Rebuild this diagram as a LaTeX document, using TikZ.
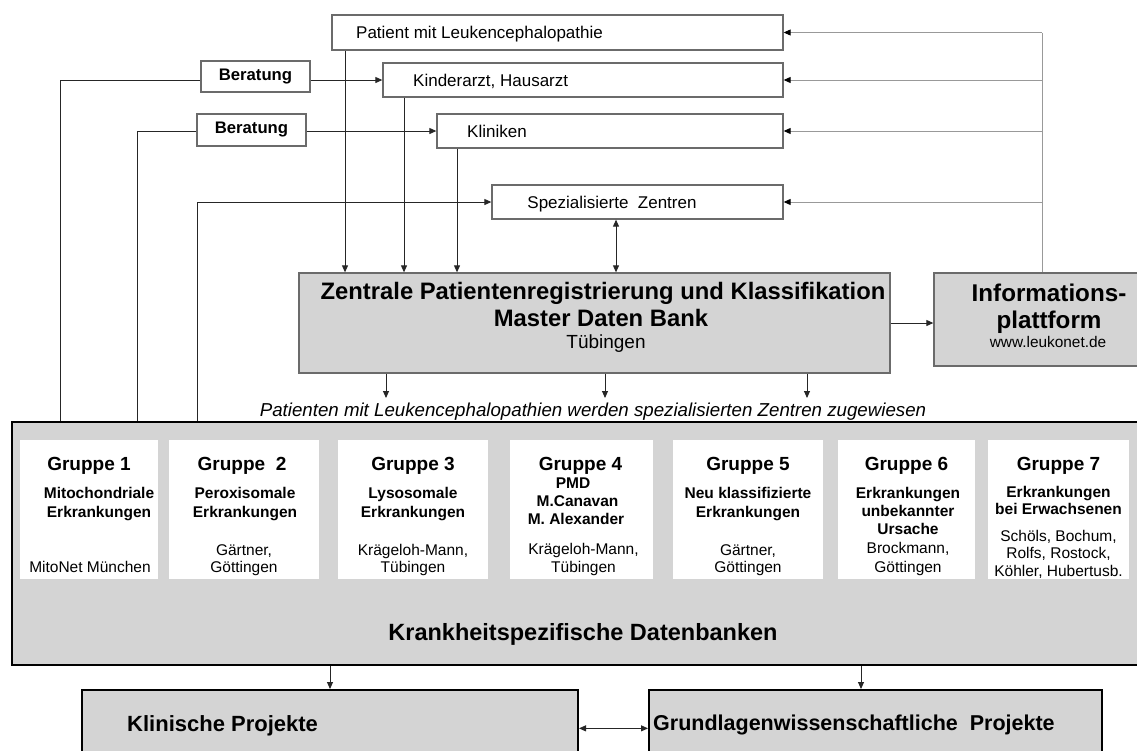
\documentclass[tikz,border=0pt]{standalone}
\usepackage{fontspec}
\setmainfont{Liberation Sans}
\usetikzlibrary{arrows.meta,calc}
\definecolor{boxline}{gray}{0.42}
\definecolor{boxfill}{gray}{0.83}
\definecolor{fbline}{gray}{0.6}
\newcommand\fsz[1]{\fontsize{#1pt}{#1pt}\selectfont}
\begin{document}
\begin{tikzpicture}[x=1pt,y=-1pt,
  wbox/.style={draw=boxline,line width=1.3pt,fill=white,inner sep=0pt},
  gbox/.style={draw=boxline,line width=1.3pt,fill=boxfill,inner sep=0pt},
  grpbox/.style={fill=white,inner sep=0pt,minimum height=139pt},
  conn/.style={draw=black!85,line width=0.9pt},
  arr/.style={conn,-{Triangle[length=7pt,width=6pt]}},
  darr/.style={conn,{Triangle[length=7pt,width=6pt]}-{Triangle[length=7pt,width=6pt]}},
  fb/.style={draw=fbline,line width=0.9pt},
  fbarr/.style={fb,-{Triangle[length=7pt,width=6pt,color=black]}},
  txt/.style={inner sep=0pt,anchor=base},
  txtw/.style={inner sep=0pt,anchor=base west},
  topt/.style={font=\fsz{17}},
  gh/.style={txt,font=\bfseries\fsz{19}},
  gs/.style={txt,font=\bfseries\fsz{15.5}},
  gn/.style={txt,font=\fsz{15.5}}
]
\clip (0,0) rectangle (1137,750);
\fill[white] (0,0) rectangle (1137,750);

% top boxes
\node[wbox,minimum width=451pt,minimum height=35pt] (pat) at (557.5,32.5) {};
\node[wbox,minimum width=400pt,minimum height=34pt] (kind) at (583,80) {};
\node[wbox,minimum width=346pt,minimum height=34pt] (klin) at (610,131) {};
\node[wbox,minimum width=291pt,minimum height=34pt] (spez) at (637.5,202) {};
\node[wbox,minimum width=109pt,minimum height=31pt,font=\bfseries\fsz{16.7}] (ber1) at (255.5,76.5) {Beratung};
\node[wbox,minimum width=109pt,minimum height=32pt,font=\bfseries\fsz{16.7}] (ber2) at (251.5,130) {Beratung};

\node[txtw,topt] (pattxt) at (356,38.6) {Patient mit Leukencephalopathie};
\node[txtw,topt] (kindtxt) at (413,86) {Kinderarzt, Hausarzt};
\node[txtw,topt] (klintxt) at (467,137) {Kliniken};
\node[txt,topt] (speztxt) at (612,208) {Spezialisierte\ \ Zentren};

% central boxes
\node[gbox,minimum width=591pt,minimum height=100pt] (zen) at (594.5,323) {};
\node[txt,font=\bfseries\fsz{23.8}] (zen1) at (603,299.5) {Zentrale Patientenregistrierung und Klassifikation};
\node[txt,font=\bfseries\fsz{23.8}] (zen2) at (601,326.5) {Master Daten Bank};
\node[txt,font=\fsz{19}] (zen3) at (606,348) {Tübingen};

\node[gbox,minimum width=236pt,minimum height=93pt] (info) at (1052,319.5) {};
\node[txt,font=\bfseries\fsz{24.2}] (info1) at (1049,301.5) {Informations-};
\node[txt,font=\bfseries\fsz{24.2}] (info2) at (1049,328.5) {plattform};
\node[txt,font=\fsz{15.4}] (info3) at (1048,347.5) {www.leukonet.de};

% italic line
\node[txt,font=\itshape\fsz{18.7}] (itxt) at (593,416.7) {Patienten mit Leukencephalopathien werden spezialisierten Zentren zugewiesen};

% big box
\node[draw=black,line width=2.4pt,fill=boxfill,inner sep=0pt,minimum width=1140pt,minimum height=243pt] (big) at (582,543.5) {};
\node[grpbox,minimum width=138pt] (g1) at (89,509.5) {};
\node[grpbox,minimum width=150pt] (g2) at (244,509.5) {};
\node[grpbox,minimum width=150pt] (g3) at (413,509.5) {};
\node[grpbox,minimum width=143pt] (g4) at (581.5,509.5) {};
\node[grpbox,minimum width=150pt] (g5) at (748,509.5) {};
\node[grpbox,minimum width=137pt] (g6) at (906.5,509.5) {};
\node[grpbox,minimum width=141pt] (g7) at (1058.5,509.5) {};

% group 1
\node[gh] (g1a) at (89,470.5) {Gruppe 1};
\node[gs] (g1b) at (99,498.5) {Mitochondriale};
\node[gs] (g1c) at (99,517.5) {Erkrankungen};
\node[gn] (g1d) at (90,572.5) {MitoNet München};
% group 2
\node[gh] (g2a) at (242,470.5) {Gruppe\ \ 2};
\node[gs] (g2b) at (245,498.5) {Peroxisomale};
\node[gs] (g2c) at (245,517.5) {Erkrankungen};
\node[gn] (g2d) at (244,555.5) {Gärtner,};
\node[gn] (g2e) at (244,572.5) {Göttingen};
% group 3
\node[gh] (g3a) at (413,470.5) {Gruppe 3};
\node[gs] (g3b) at (413,498.5) {Lysosomale};
\node[gs] (g3c) at (413,517.5) {Erkrankungen};
\node[gn] (g3d) at (413,555.5) {Krägeloh-Mann,};
\node[gn] (g3e) at (413,572.5) {Tübingen};
% group 4
\node[gh] (g4a) at (580.5,470.5) {Gruppe 4};
\node[gs] (g4b) at (573,488.6) {PMD};
\node[gs] (g4c) at (577.5,506.6) {M.Canavan};
\node[gs] (g4d) at (576,524.6) {M. Alexander};
\node[gn] (g4e) at (583.5,554.6) {Krägeloh-Mann,};
\node[gn] (g4f) at (583.5,572.6) {Tübingen};
% group 5
\node[gh] (g5a) at (748,470.5) {Gruppe 5};
\node[gs] (g5b) at (748,498.5) {Neu klassifizierte};
\node[gs] (g5c) at (748,517.5) {Erkrankungen};
\node[gn] (g5d) at (748,555.5) {Gärtner,};
\node[gn] (g5e) at (748,572.5) {Göttingen};
% group 6
\node[gh] (g6a) at (906.5,470.5) {Gruppe 6};
\node[gs] (g6b) at (908,498.6) {Erkrankungen};
\node[gs] (g6c) at (908,516.6) {unbekannter};
\node[gs] (g6d) at (908,534.6) {Ursache};
\node[gn] (g6e) at (908,553.6) {Brockmann,};
\node[gn] (g6f) at (908,572.6) {Göttingen};
% group 7
\node[gh] (g7a) at (1058.5,470.5) {Gruppe 7};
\node[gs] (g7b) at (1058.5,497.5) {Erkrankungen};
\node[gs] (g7c) at (1058.5,514.5) {bei Erwachsenen};
\node[gn] (g7d) at (1058.5,541.5) {Schöls, Bochum,};
\node[gn] (g7e) at (1058.5,558.5) {Rolfs, Rostock,};
\node[gn] (g7f) at (1058.5,576.5) {Köhler, Hubertusb.};

\node[txt,font=\bfseries\fsz{23.5}] (ktxt) at (583,640.5) {Krankheitspezifische Datenbanken};

% bottom boxes
\node[draw=black,line width=2pt,fill=boxfill,inner sep=0pt,minimum width=496pt,minimum height=90pt] (klp) at (330,735) {};
\node[draw=black,line width=2pt,fill=boxfill,inner sep=0pt,minimum width=453pt,minimum height=90pt] (gwp) at (875.5,735) {};
\node[txtw,font=\bfseries\fsz{22}] (klptxt) at (127,731) {Klinische Projekte};
\node[txtw,font=\bfseries\fsz{21.5}] (gwptxt) at (653,730.5) {Grundlagenwissenschaftliche\ \ Projekte};

% coordinates
\coordinate (L1) at (60,0);
\coordinate (L2) at (137,0);
\coordinate (L3) at (197,0);
\coordinate (V1) at (345,0);
\coordinate (V2) at (404,0);
\coordinate (V3) at (457,0);
\coordinate (DA) at (616,0);
\coordinate (FB) at (1042,0);
\coordinate (B1) at (330,0);
\coordinate (B2) at (861,0);
\coordinate (d1) at (386,398);
\coordinate (d2) at (605,398);
\coordinate (d3) at (807,398);

% connectors left
\draw[conn] (big.north -| L1) |- (ber1.west |- kind.west);
\draw[arr] (ber1.east |- kind.west) -- (kind.west);
\draw[conn] (big.north -| L2) |- (ber2.west |- klin.west);
\draw[arr] (ber2.east |- klin.west) -- (klin.west);
\draw[arr] (big.north -| L3) |- (spez.west);

% down to zentrale
\draw[arr] (pat.south -| V1) -- (zen.north -| V1);
\draw[arr] (kind.south -| V2) -- (zen.north -| V2);
\draw[arr] (klin.south -| V3) -- (zen.north -| V3);
\draw[darr] (spez.south -| DA) -- (zen.north -| DA);

% zentrale to info
\draw[arr] (zen.east) -- (info.west |- zen.east);

% feedback
\draw[fb] (info.north -| FB) -- (FB |- pat.east);
\draw[fbarr] (FB |- pat.east) -- (pat.east);
\draw[fbarr] (FB |- kind.east) -- (kind.east);
\draw[fbarr] (FB |- klin.east) -- (klin.east);
\draw[fbarr] (FB |- spez.east) -- (spez.east);

% zentrale down arrows
\draw[arr] (zen.south -| d1) -- (d1);
\draw[arr] (zen.south -| d2) -- (d2);
\draw[arr] (zen.south -| d3) -- (d3);

% bottom
\draw[arr] (big.south -| B1) -- (klp.north -| B1);
\draw[arr] (big.south -| B2) -- (gwp.north -| B2);
\draw[darr] (klp.east |- klptxt.mid) -- (gwp.west |- klptxt.mid);
\end{tikzpicture}
\end{document}
